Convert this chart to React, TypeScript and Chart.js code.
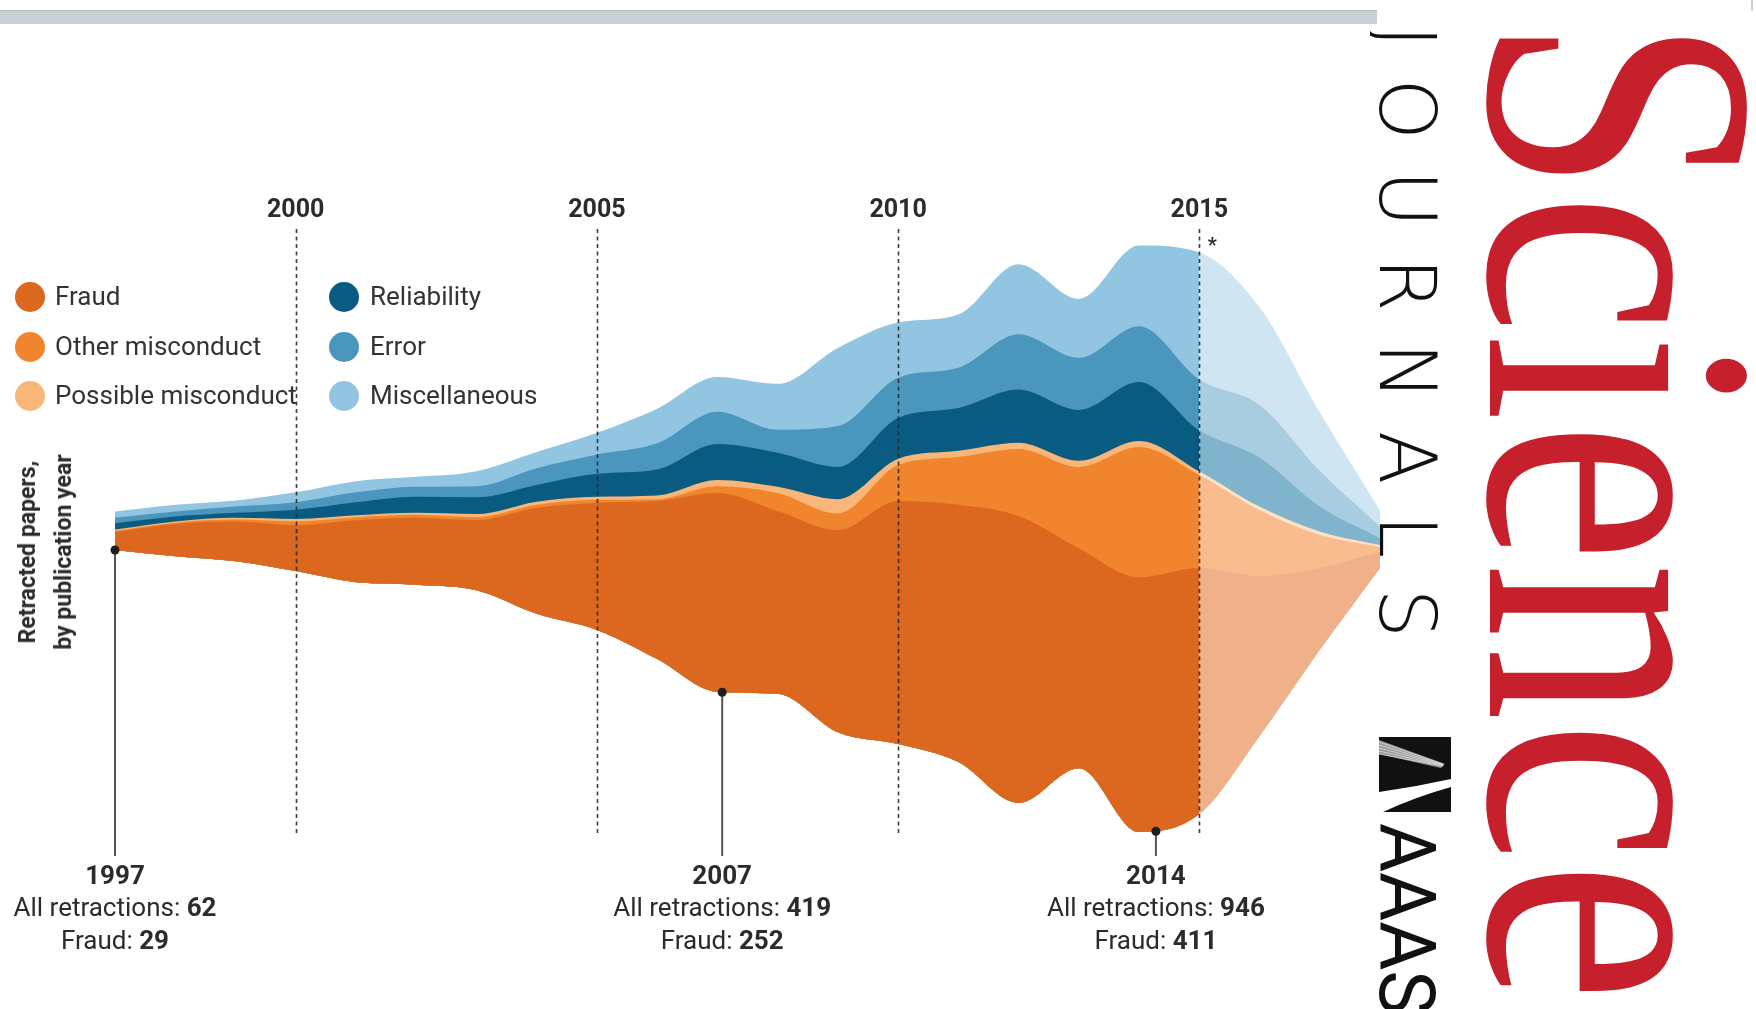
import React, { useEffect, useRef } from "react";
import { Chart, registerables } from "chart.js";

Chart.register(...registerables);

// ---------- DATA ----------
const years = [1997, 1998, 1999, 2000, 2001, 2002, 2003, 2004, 2005, 2006, 2007, 2008, 2009, 2010, 2011, 2012, 2013, 2014, 2015, 2016, 2017, 2018];
const fraud = [29, 52, 64, 74, 100, 108, 113, 171, 205, 255, 321, 295, 326, 392, 415, 463, 355, 411, 397, 258, 132, 26];
const otherMisconduct = [2, 2, 3, 6, 5, 5, 5, 5, 5, 3, 11, 29, 27, 58, 77, 108, 131, 210, 150, 106, 53, 8];
const possibleMisconduct = [2, 2, 3, 4, 3, 3, 5, 5, 5, 6, 10, 10, 23, 10, 10, 10, 10, 10, 6, 6, 6, 3];
const reliability = [10, 8, 8, 15, 21, 26, 27, 27, 37, 42, 58, 55, 52, 66, 69, 86, 82, 95, 66, 79, 40, 11];
const errorSeries = [9, 8, 10, 12, 16, 16, 18, 27, 31, 42, 52, 37, 66, 65, 65, 89, 84, 90, 82, 85, 58, 19];
const miscellaneous = [10, 11, 10, 16, 18, 16, 24, 26, 35, 56, 56, 74, 126, 89, 86, 113, 95, 130, 205, 158, 94, 26];
// streamgraph offset of the lowest edge (below the 1997 centre line)
const streamOffset = [0, -10, -18, -34, -52, -56, -65, -103, -129, -176, -229, -232, -294, -313, -342, -408, -352, -455, -426, -300, -161, -29];

const seriesNames = ["Fraud", "Other misconduct", "Possible misconduct", "Reliability", "Error", "Miscellaneous"];
const seriesColors = ["#dc671f", "#f0852d", "#f9b679", "#0a5b82", "#4b96bd", "#92c5e2"];
const seriesLightColors = ["#efb08a", "#f8bc8e", "#fbe1c6", "#80b3cc", "#a8cde1", "#cfe5f1"];
const incompleteFrom = 2015;

const yearMarks = [2000, 2005, 2010, 2015];
const annotationYears = [1997, 2007, 2014];
const annotationAt = [1997, 2007.08, 2014.28];
const annotationTotals = [62, 419, 946];
const annotationFraud = [29, 252, 411];

// ---------- LAYOUT ----------
const W = 1756;
const H = 1009;
const CENTER_Y = 550;
const PX_PER_UNIT = 0.62;
const Y_MAX = CENTER_Y / PX_PER_UNIT;
const Y_MIN = -(H - CENTER_Y) / PX_PER_UNIT;
const FONT = '"Roboto", "Liberation Sans", sans-serif';

const layers = [fraud, otherMisconduct, possibleMisconduct, reliability, errorSeries, miscellaneous];
const cumulative = layers.map((_, li) =>
  years.map((_, i) => streamOffset[i] + layers.slice(0, li + 1).reduce((s, arr) => s + arr[i], 0))
);

function drawMixed(ctx: CanvasRenderingContext2D, parts: { t: string; bold: boolean }[], cx: number, y: number, size: number) {
  const widths = parts.map((p) => {
    ctx.font = `${p.bold ? "bold " : ""}${size}px ${FONT}`;
    return ctx.measureText(p.t).width;
  });
  const total = widths.reduce((a, b) => a + b, 0);
  let x = cx - total / 2;
  ctx.textAlign = "left";
  parts.forEach((p, i) => {
    ctx.font = `${p.bold ? "bold " : ""}${size}px ${FONT}`;
    ctx.fillText(p.t, x, y);
    x += widths[i];
  });
}

const overlayPlugin = {
  id: "streamOverlay",
  afterDatasetsDraw(chart: any) {
    const { ctx, scales } = chart;
    const xs = scales.x;
    const ys = scales.y;
    ctx.save();
    // dashed year lines + labels
    ctx.strokeStyle = "rgba(40,40,40,0.9)";
    ctx.lineWidth = 1.6;
    ctx.setLineDash([4, 3.5]);
    yearMarks.forEach((yr) => {
      const px = Math.round(xs.getPixelForValue(yr)) + 0.5;
      ctx.beginPath();
      ctx.moveTo(px, 229);
      ctx.lineTo(px, 834);
      ctx.stroke();
    });
    ctx.setLineDash([]);
    ctx.fillStyle = "#2b2b2b";
    ctx.textBaseline = "middle";
    ctx.textAlign = "center";
    ctx.font = `bold 25px ${FONT}`;
    yearMarks.forEach((yr) => {
      const px = xs.getPixelForValue(yr);
      ctx.fillText(String(yr), px, 211);
    });
    ctx.font = `bold 20px ${FONT}`;
    ctx.fillText("*", xs.getPixelForValue(incompleteFrom) + 13, 247);

    // annotations: dot on the lower edge of the stream, line down, text
    const baseLine = chart.getDatasetMeta(0).dataset;
    annotationYears.forEach((yr, k) => {
      const idx = years.indexOf(yr);
      const px = xs.getPixelForValue(annotationAt[k]);
      let py = ys.getPixelForValue(streamOffset[idx]);
      const ip = baseLine && baseLine.interpolate ? baseLine.interpolate({ x: px }, "x") : null;
      if (ip && !Array.isArray(ip) && isFinite(ip.y)) py = ip.y;
      ctx.strokeStyle = "#555";
      ctx.lineWidth = 2;
      ctx.beginPath();
      ctx.moveTo(px, py);
      ctx.lineTo(px, 856);
      ctx.stroke();
      ctx.fillStyle = "#1e1e1e";
      ctx.beginPath();
      ctx.arc(px, py, 4.5, 0, Math.PI * 2);
      ctx.fill();
      ctx.fillStyle = "#2b2b2b";
      ctx.textBaseline = "middle";
      drawMixed(ctx, [{ t: String(yr), bold: true }], px, 877, 26);
      drawMixed(ctx, [{ t: "All retractions: ", bold: false }, { t: String(annotationTotals[k]), bold: true }], px, 909, 26);
      drawMixed(ctx, [{ t: "Fraud: ", bold: false }, { t: String(annotationFraud[k]), bold: true }], px, 942, 26);
    });
    ctx.restore();
  },
};

export default function App() {
  const ref = useRef<HTMLCanvasElement>(null);

  useEffect(() => {
    const idxIncomplete = years.indexOf(incompleteFrom);
    const datasets: any[] = [
      {
        label: "offset",
        data: years.map((y, i) => ({ x: y, y: streamOffset[i] })),
        fill: false,
        borderWidth: 0,
        borderColor: "transparent",
        pointRadius: 0,
        cubicInterpolationMode: "monotone",
      },
    ];
    seriesNames.forEach((name, li) => {
      datasets.push({
        label: name,
        data: years.map((y, i) => ({ x: y, y: cumulative[li][i] })),
        fill: 0,
        backgroundColor: seriesColors[li],
        borderWidth: 0,
        borderColor: "transparent",
        pointRadius: 0,
        cubicInterpolationMode: "monotone",
        segment: {
          backgroundColor: (c: any) => (c.p0DataIndex >= idxIncomplete ? seriesLightColors[li] : undefined),
        },
      });
    });

    const chart = new Chart(ref.current as HTMLCanvasElement, {
      type: "line",
      data: { datasets },
      options: {
        responsive: false,
        animation: false,
        devicePixelRatio: 1,
        layout: { padding: { left: 115, right: W - 1380, top: 0, bottom: 0 } },
        scales: {
          x: { type: "linear", min: years[0], max: years[years.length - 1], display: false },
          y: { min: Y_MIN, max: Y_MAX, display: false },
        },
        plugins: {
          legend: { display: false },
          tooltip: { enabled: false },
        },
        elements: { point: { radius: 0 } },
      },
      plugins: [overlayPlugin],
    } as any);
    return () => chart.destroy();
  }, []);

  const legendPos = [
    { cx: 30, cy: 297, tx: 55 },
    { cx: 30, cy: 347, tx: 55 },
    { cx: 30, cy: 396, tx: 55 },
    { cx: 344, cy: 297, tx: 370 },
    { cx: 344, cy: 347, tx: 370 },
    { cx: 344, cy: 396, tx: 370 },
  ];

  return (
    <div style={{ position: "fixed", left: 0, top: 0, width: W, height: H, background: "#fff", overflow: "hidden" }}>
      {/* top bar */}
      <div style={{ position: "absolute", left: 0, top: 10, width: 1377, height: 13, background: "#cad1d4", borderTop: "1px solid #b9bab2" }} />
      <div style={{ position: "absolute", left: 1751, top: 0, width: 2, height: 11, background: "#cfcfcf" }} />

      <canvas ref={ref} width={W} height={H} style={{ position: "absolute", left: 0, top: 0, width: W, height: H }} />

      {/* legend */}
      {seriesNames.map((name, i) => (
        <React.Fragment key={name}>
          <div
            style={{
              position: "absolute",
              left: legendPos[i].cx - 15,
              top: legendPos[i].cy - 15,
              width: 30,
              height: 30,
              borderRadius: "50%",
              background: seriesColors[i],
            }}
          />
          <div
            style={{
              position: "absolute",
              left: legendPos[i].tx,
              top: legendPos[i].cy - 16,
              height: 32,
              lineHeight: "32px",
              font: `26px ${FONT}`,
              color: "#333",
              whiteSpace: "nowrap",
            }}
          >
            {name}
          </div>
        </React.Fragment>
      ))}

      {/* y-axis title */}
      <div
        style={{
          position: "absolute",
          left: 46,
          top: 552,
          transform: "translate(-50%, -50%) rotate(-90deg)",
          font: `bold 23px ${FONT}`,
          lineHeight: "36px",
          textAlign: "center",
          whiteSpace: "nowrap",
          color: "#2b2b2b",
        }}
      >
        Retracted papers,
        <br />
        by publication year
      </div>

      {/* Science Journals / AAAS logo */}
      <svg style={{ position: "absolute", left: 1370, top: 0 }} width={386} height={1009}>
        <text
          transform="translate(120,17) rotate(90)"
          x={0}
          y={0}
          fontFamily='"Liberation Serif", "Times New Roman", "DejaVu Serif", serif'
          fontSize={388}
          fill="#c6202d"
          textLength={985}
          lengthAdjust="spacingAndGlyphs"
        >
          Science
        </text>
        <text
          transform="translate(10,25) rotate(90)"
          x={0}
          y={0}
          fontFamily='"DejaVu Sans", sans-serif'
          fontWeight={200}
          fontSize={78}
          fill="#111"
          textLength={613}
          lengthAdjust="spacing"
        >
          JOURNALS
        </text>
        <g transform="translate(9,737)">
          <rect x={0} y={0} width={72} height={75} fill="#111" />
          <polygon points="0,3 0,17 62,31 66,27" fill="#9a9a9a" />
          {[0, 1, 2, 3, 4].map((k) => (
            <line key={k} x1={0} y1={5 + k * 3} x2={64} y2={27 + k * 0.5} stroke="#dcdcdc" strokeWidth={0.8} />
          ))}
          <path d="M0,55 Q36,50 72,42 L72,50 Q36,60 4,75 L0,75 Z" fill="#fff" />
        </g>
        <text
          transform="translate(10,823) rotate(90)"
          x={0}
          y={0}
          fontFamily='"Roboto", sans-serif'
          fontSize={78}
          fill="#111"
          textLength={192}
          lengthAdjust="spacingAndGlyphs"
        >
          AAAS
        </text>
      </svg>
    </div>
  );
}
